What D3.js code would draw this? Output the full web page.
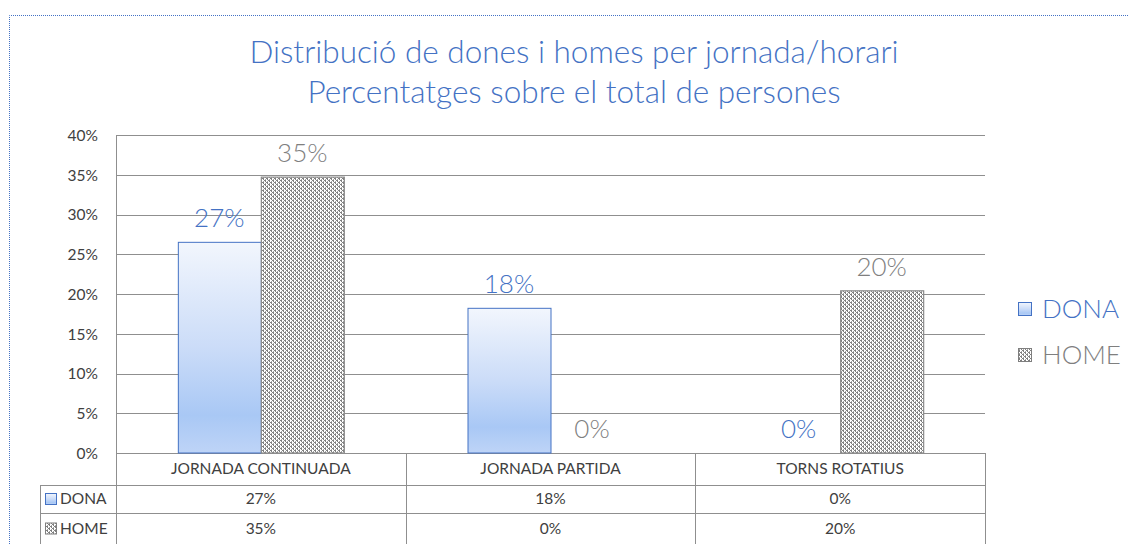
<!DOCTYPE html>
<html><head><meta charset="utf-8">
<script src="https://cdn.jsdelivr.net/npm/d3@7"></script>
<style>body{margin:0;background:#fff}svg{display:block}</style>
</head><body>
<svg id="c" width="1129" height="544"></svg>
<script>
const categories = ["JORNADA CONTINUADA", "JORNADA PARTIDA", "TORNS ROTATIUS"];
const seriesNames = ["DONA", "HOME"];
const donaValues = [0.265, 0.182, 0];
const homeValues = [0.347, 0, 0.204];
const donaLabels = ["27%", "18%", "0%"];
const homeLabels = ["35%", "0%", "20%"];
const yTicks = [0, 0.05, 0.10, 0.15, 0.20, 0.25, 0.30, 0.35, 0.40];
const titleLines = ["Distribució de dones i homes per jornada/horari", "Percentatges sobre el total de persones"];

const FONT = "Lato, 'Open Sans', sans-serif";
const svg = d3.select("#c");
const defs = svg.append("defs");

const grad = defs.append("linearGradient").attr("id","gDona").attr("x1",0).attr("y1",0).attr("x2",0).attr("y2",1);
grad.append("stop").attr("offset","0%").attr("stop-color","#f2f6fd");
grad.append("stop").attr("offset","50%").attr("stop-color","#cbdcf8");
grad.append("stop").attr("offset","82%").attr("stop-color","#a9c8f5");
grad.append("stop").attr("offset","100%").attr("stop-color","#bed4f7");

const pat = defs.append("pattern").attr("id","pHome").attr("patternUnits","userSpaceOnUse").attr("width",4).attr("height",4);
pat.append("rect").attr("width",4).attr("height",4).attr("fill","#ffffff");
pat.append("rect").attr("x",0).attr("y",0).attr("width",2).attr("height",1).attr("fill","#7f7f7f");
pat.append("rect").attr("x",1).attr("y",1).attr("width",1).attr("height",1).attr("fill","#7f7f7f");
pat.append("rect").attr("x",2).attr("y",2).attr("width",2).attr("height",1).attr("fill","#7f7f7f");
pat.append("rect").attr("x",3).attr("y",3).attr("width",1).attr("height",1).attr("fill","#7f7f7f");
pat.append("rect").attr("x",3).attr("y",1).attr("width",1).attr("height",1).attr("fill","#a6a6a6");
pat.append("rect").attr("x",1).attr("y",3).attr("width",1).attr("height",1).attr("fill","#a6a6a6");

svg.append("path").attr("d","M9.5,544 V15.5 H1129").attr("fill","none")
  .attr("stroke","#4472c4").attr("stroke-width",1).attr("stroke-dasharray","1,1");

titleLines.forEach((t,i)=>{
  svg.append("text").attr("x",574).attr("y",63+i*40).attr("text-anchor","middle")
    .attr("font-family",FONT).attr("font-weight",300).attr("font-size",31.5).attr("fill","#4472c4").text(t);
});

const x = d3.scaleBand().domain(categories).range([116,985]).padding(0);
const xs = d3.scaleBand().domain(seriesNames).range([0,x.bandwidth()]).paddingInner(0).paddingOuter(0.745);
const y = d3.scaleLinear().domain([0,0.4]).range([453,135]);

const gridColor = "#8f8f8f";
svg.append("g").selectAll("line").data(yTicks).join("line")
  .attr("x1",116).attr("x2",985).attr("y1",d=>Math.round(y(d))+0.5).attr("y2",d=>Math.round(y(d))+0.5)
  .attr("stroke",gridColor).attr("stroke-width",1);
svg.append("line").attr("x1",116.5).attr("x2",116.5).attr("y1",Math.round(y(0.4))).attr("y2",544).attr("stroke",gridColor);

const yAxis = d3.axisLeft(y).tickValues(yTicks).tickFormat(d3.format(".0%")).tickSize(0).tickPadding(0);
const ya = svg.append("g").attr("transform","translate(98,0)").call(yAxis);
ya.select(".domain").remove();
ya.selectAll("text").attr("font-family",FONT).attr("font-size",15.5).attr("fill","#404040").attr("dy","0.35em");

const data = categories.map((c,i)=>({c, dona:donaValues[i], home:homeValues[i], dl:donaLabels[i], hl:homeLabels[i]}));
const gb = svg.append("g");
data.forEach(d=>{
  const x0 = x(d.c);
  if (d.dona>0) gb.append("rect").attr("x",x0+xs("DONA")+0.5).attr("y",y(d.dona)).attr("width",xs.bandwidth()).attr("height",y(0)-y(d.dona))
    .attr("fill","url(#gDona)").attr("stroke","#4472c4").attr("stroke-width",1);
  if (d.home>0) gb.append("rect").attr("x",x0+xs("HOME")+0.5).attr("y",y(d.home)).attr("width",xs.bandwidth()).attr("height",y(0)-y(d.home))
    .attr("fill","url(#pHome)").attr("stroke","#8c8c8c").attr("stroke-width",1.2);
  gb.append("text").attr("x",x0+xs("DONA")+xs.bandwidth()/2).attr("y",y(d.dona)-15).attr("text-anchor","middle")
    .attr("font-family",FONT).attr("font-weight",300).attr("font-size",26).attr("fill","#4472c4").text(d.dl);
  gb.append("text").attr("x",x0+xs("HOME")+xs.bandwidth()/2).attr("y",y(d.home)-15).attr("text-anchor","middle")
    .attr("font-family",FONT).attr("font-weight",300).attr("font-size",26).attr("fill","#7f7f7f").text(d.hl);
});

const rowY = [453, 485, 513, 544];
const tg = svg.append("g");
tg.append("line").attr("x1",40).attr("x2",985).attr("y1",485.5).attr("y2",485.5).attr("stroke",gridColor);
tg.append("line").attr("x1",40).attr("x2",985).attr("y1",513.5).attr("y2",513.5).attr("stroke",gridColor);
tg.append("line").attr("x1",40.5).attr("x2",40.5).attr("y1",485).attr("y2",544).attr("stroke",gridColor);
categories.forEach(c=>{
  const xr = Math.round(x(c)+x.bandwidth())+0.5;
  tg.append("line").attr("x1",xr).attr("x2",xr).attr("y1",453).attr("y2",544).attr("stroke",gridColor);
});
const cellText = (tx,ty,t)=>tg.append("text").attr("x",tx).attr("y",ty).attr("text-anchor","middle").attr("dy","0.35em")
  .attr("font-family",FONT).attr("font-size",15.5).attr("fill","#404040").text(t);
data.forEach(d=>{
  const cx = x(d.c)+x.bandwidth()/2;
  cellText(cx,(rowY[0]+rowY[1])/2,d.c);
  cellText(cx,(rowY[1]+rowY[2])/2,d.dl);
  cellText(cx,(rowY[2]+rowY[3])/2,d.hl);
});
const keyFill = {DONA:"url(#gDona)", HOME:"url(#pHome)"};
const keyStroke = {DONA:"#4472c4", HOME:"#7f7f7f"};
seriesNames.forEach((s,i)=>{
  const cy = (rowY[i+1]+rowY[i+2])/2;
  tg.append("rect").attr("x",45.5).attr("y",cy-5.5).attr("width",11).attr("height",11).attr("fill",keyFill[s]).attr("stroke",keyStroke[s]);
  tg.append("text").attr("x",60).attr("y",cy).attr("dy","0.35em").attr("font-family",FONT).attr("font-size",15.5).attr("fill","#404040").text(s);
});

const legColor = {DONA:"#4472c4", HOME:"#7f7f7f"};
seriesNames.forEach((s,i)=>{
  const cy = 309 + i*46;
  svg.append("rect").attr("x",1018.5).attr("y",cy-6.5).attr("width",13).attr("height",13).attr("fill",keyFill[s]).attr("stroke",keyStroke[s]);
  svg.append("text").attr("x",1042).attr("y",cy).attr("dy","0.35em").attr("font-family",FONT).attr("font-weight",300)
    .attr("font-size",26).attr("fill",legColor[s]).text(s);
});
</script>
</body></html>
